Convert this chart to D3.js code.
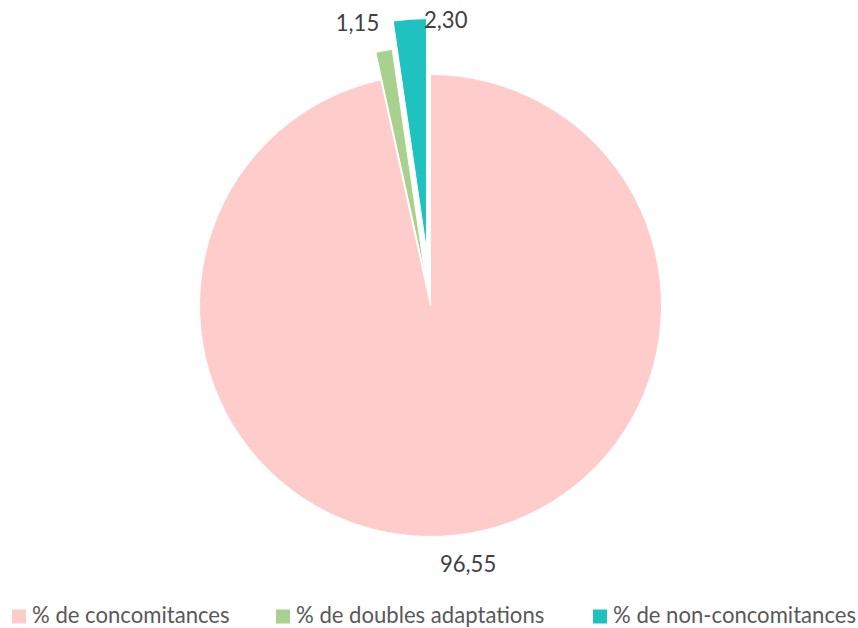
<!DOCTYPE html>
<html>
<head>
<meta charset="utf-8">
<script src="https://cdn.jsdelivr.net/npm/d3@7"></script>
<style>
  html, body { margin: 0; padding: 0; background: #ffffff; }
  svg { display: block; }
</style>
</head>
<body>
<svg id="chart" width="858" height="628"></svg>
<script>
// ---- data ----
const categories = ["% de concomitances", "% de doubles adaptations", "% de non-concomitances"];
const values = [96.55, 1.15, 2.30];
const valueLabels = ["96,55", "1,15", "2,30"];

// ---- layout / style ----
const W = 858, H = 628;
const cx = 430.5, cy = 305.5, R = 231;
const colors = ["#FFCCCC", "#A9D18E", "#1FC2BF"];
const explode = [0, 28, 56];
const labelNudge = [[12.6, 37], [-26.5, -20], [36, 8.5]];
const fontFamily = "Lato, 'Open Sans', 'Liberation Sans', sans-serif";

const svg = d3.select("#chart");

const pie = d3.pie().sort(null).value(d => d);
const arcs = pie(values);
const arc = d3.arc().innerRadius(0).outerRadius(R);

const g = svg.append("g").attr("transform", `translate(${cx},${cy})`);

function dirOf(a) {
  const m = (a.startAngle + a.endAngle) / 2;
  return [Math.sin(m), -Math.cos(m)];
}

g.selectAll("path.slice")
  .data(arcs)
  .join("path")
  .attr("class", "slice")
  .attr("d", arc)
  .attr("fill", (d, i) => colors[i])
  .attr("stroke", "#ffffff")
  .attr("stroke-width", 1)
  .attr("stroke-linejoin", "round")
  .attr("transform", (d, i) => {
    const [dx, dy] = dirOf(d);
    return `translate(${dx * explode[i]},${dy * explode[i]})`;
  });

// ---- fit font size to reference legend widths ----
const legendTargets = [198, 249.5, 242];
const probe = svg.append("text").attr("font-family", fontFamily).attr("font-size", 24);
let measured = 0;
categories.forEach(c => { probe.text(c); measured += probe.node().getComputedTextLength(); });
probe.remove();
const fs = 24 * d3.sum(legendTargets) / measured;

// ---- data labels ----
g.selectAll("text.lbl")
  .data(arcs)
  .join("text")
  .attr("class", "lbl")
  .attr("x", (d, i) => dirOf(d)[0] * (R + explode[i]) + labelNudge[i][0])
  .attr("y", (d, i) => dirOf(d)[1] * (R + explode[i]) + labelNudge[i][1])
  .attr("text-anchor", "middle")
  .attr("font-family", fontFamily)
  .attr("font-size", fs)
  .attr("fill", "#404040")
  .text((d, i) => valueLabels[i]);

// ---- legend ----
const legendX = [12, 276, 593];
const legend = svg.append("g");
const items = legend.selectAll("g.item")
  .data(categories)
  .join("g")
  .attr("class", "item")
  .attr("transform", (d, i) => `translate(${legendX[i]},0)`);
items.append("rect")
  .attr("x", 0).attr("y", 609.5)
  .attr("width", 14).attr("height", 14)
  .attr("fill", (d, i) => colors[i]);
items.append("text")
  .attr("x", 20).attr("y", 623)
  .attr("font-family", fontFamily)
  .attr("font-size", fs)
  .attr("fill", "#595959")
  .text(d => d);
</script>
</body>
</html>
